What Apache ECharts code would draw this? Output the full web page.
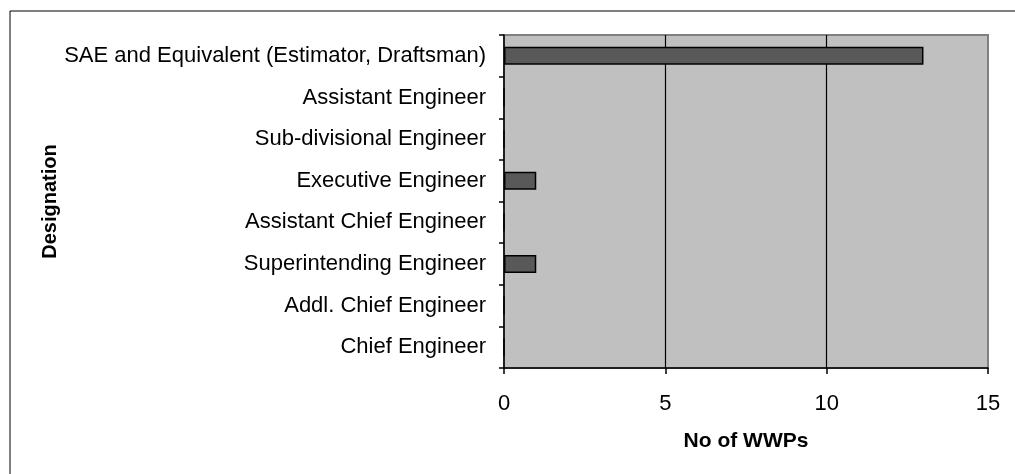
<!DOCTYPE html>
<html>
<head>
<meta charset="utf-8">
<script src="https://cdn.jsdelivr.net/npm/echarts@6/dist/echarts.min.js"></script>
<style>
  html, body { margin: 0; padding: 0; background: #fff; }
  #chart { width: 1015px; height: 474px; }
</style>
</head>
<body>
<div id="chart"></div>
<script>
// designations, listed top to bottom as in the chart
var designations = [
    'SAE and Equivalent (Estimator, Draftsman)',
    'Assistant Engineer',
    'Sub-divisional Engineer',
    'Executive Engineer',
    'Assistant Chief Engineer',
    'Superintending Engineer',
    'Addl. Chief Engineer',
    'Chief Engineer'
];
var wwpCounts = [13, 0, 0, 1, 0, 1, 0, 0];
var xTicks = [0, 5, 10, 15];

var font = 'Liberation Sans, Arial, sans-serif';
var chart = echarts.init(document.getElementById('chart'), null, {renderer: 'canvas'});

var option = {
    animation: false,
    backgroundColor: '#fff',
    textStyle: {fontFamily: font, color: '#000'},
    grid: {
        left: 504,
        right: 27,
        top: 35,
        bottom: 106,
        show: true,
        backgroundColor: '#c0c0c0',
        borderColor: '#808080',
        borderWidth: 2
    },
    xAxis: {
        type: 'value',
        min: xTicks[0],
        max: xTicks[xTicks.length - 1],
        interval: 5,
        name: 'No of WWPs',
        nameLocation: 'middle',
        nameGap: 63,
        nameTextStyle: {fontSize: 21, fontWeight: 'bold', color: '#000', fontFamily: font},
        axisLine: {show: true, lineStyle: {color: '#000', width: 1.5}},
        axisTick: {show: true, length: 6, lineStyle: {color: '#000', width: 1.5}},
        axisLabel: {fontSize: 22, color: '#000', margin: 25, fontFamily: font},
        splitLine: {show: true, showMinLine: false, showMaxLine: false, lineStyle: {color: '#000', width: 1.2}}
    },
    yAxis: {
        type: 'category',
        data: designations,
        inverse: true,
        name: 'Designation',
        nameLocation: 'middle',
        nameGap: 442,
        nameTextStyle: {fontSize: 20, fontWeight: 'bold', color: '#000', fontFamily: font},
        axisLine: {show: true, lineStyle: {color: '#000', width: 1.5}},
        axisTick: {show: true, length: 5, lineStyle: {color: '#000', width: 1.5}},
        axisLabel: {fontSize: 22, color: '#000', margin: 18, fontFamily: font},
        splitLine: {show: false}
    },
    series: [{
        type: 'bar',
        data: wwpCounts,
        barWidth: 18,
        itemStyle: {color: '#595959', borderColor: '#000', borderWidth: 1.5}
    }],
    graphic: [{
        type: 'rect',
        shape: {x: 10, y: 11, width: 1100, height: 1000},
        style: {fill: null, stroke: '#000', lineWidth: 1}
    }]
};

chart.setOption(option);
</script>
</body>
</html>
